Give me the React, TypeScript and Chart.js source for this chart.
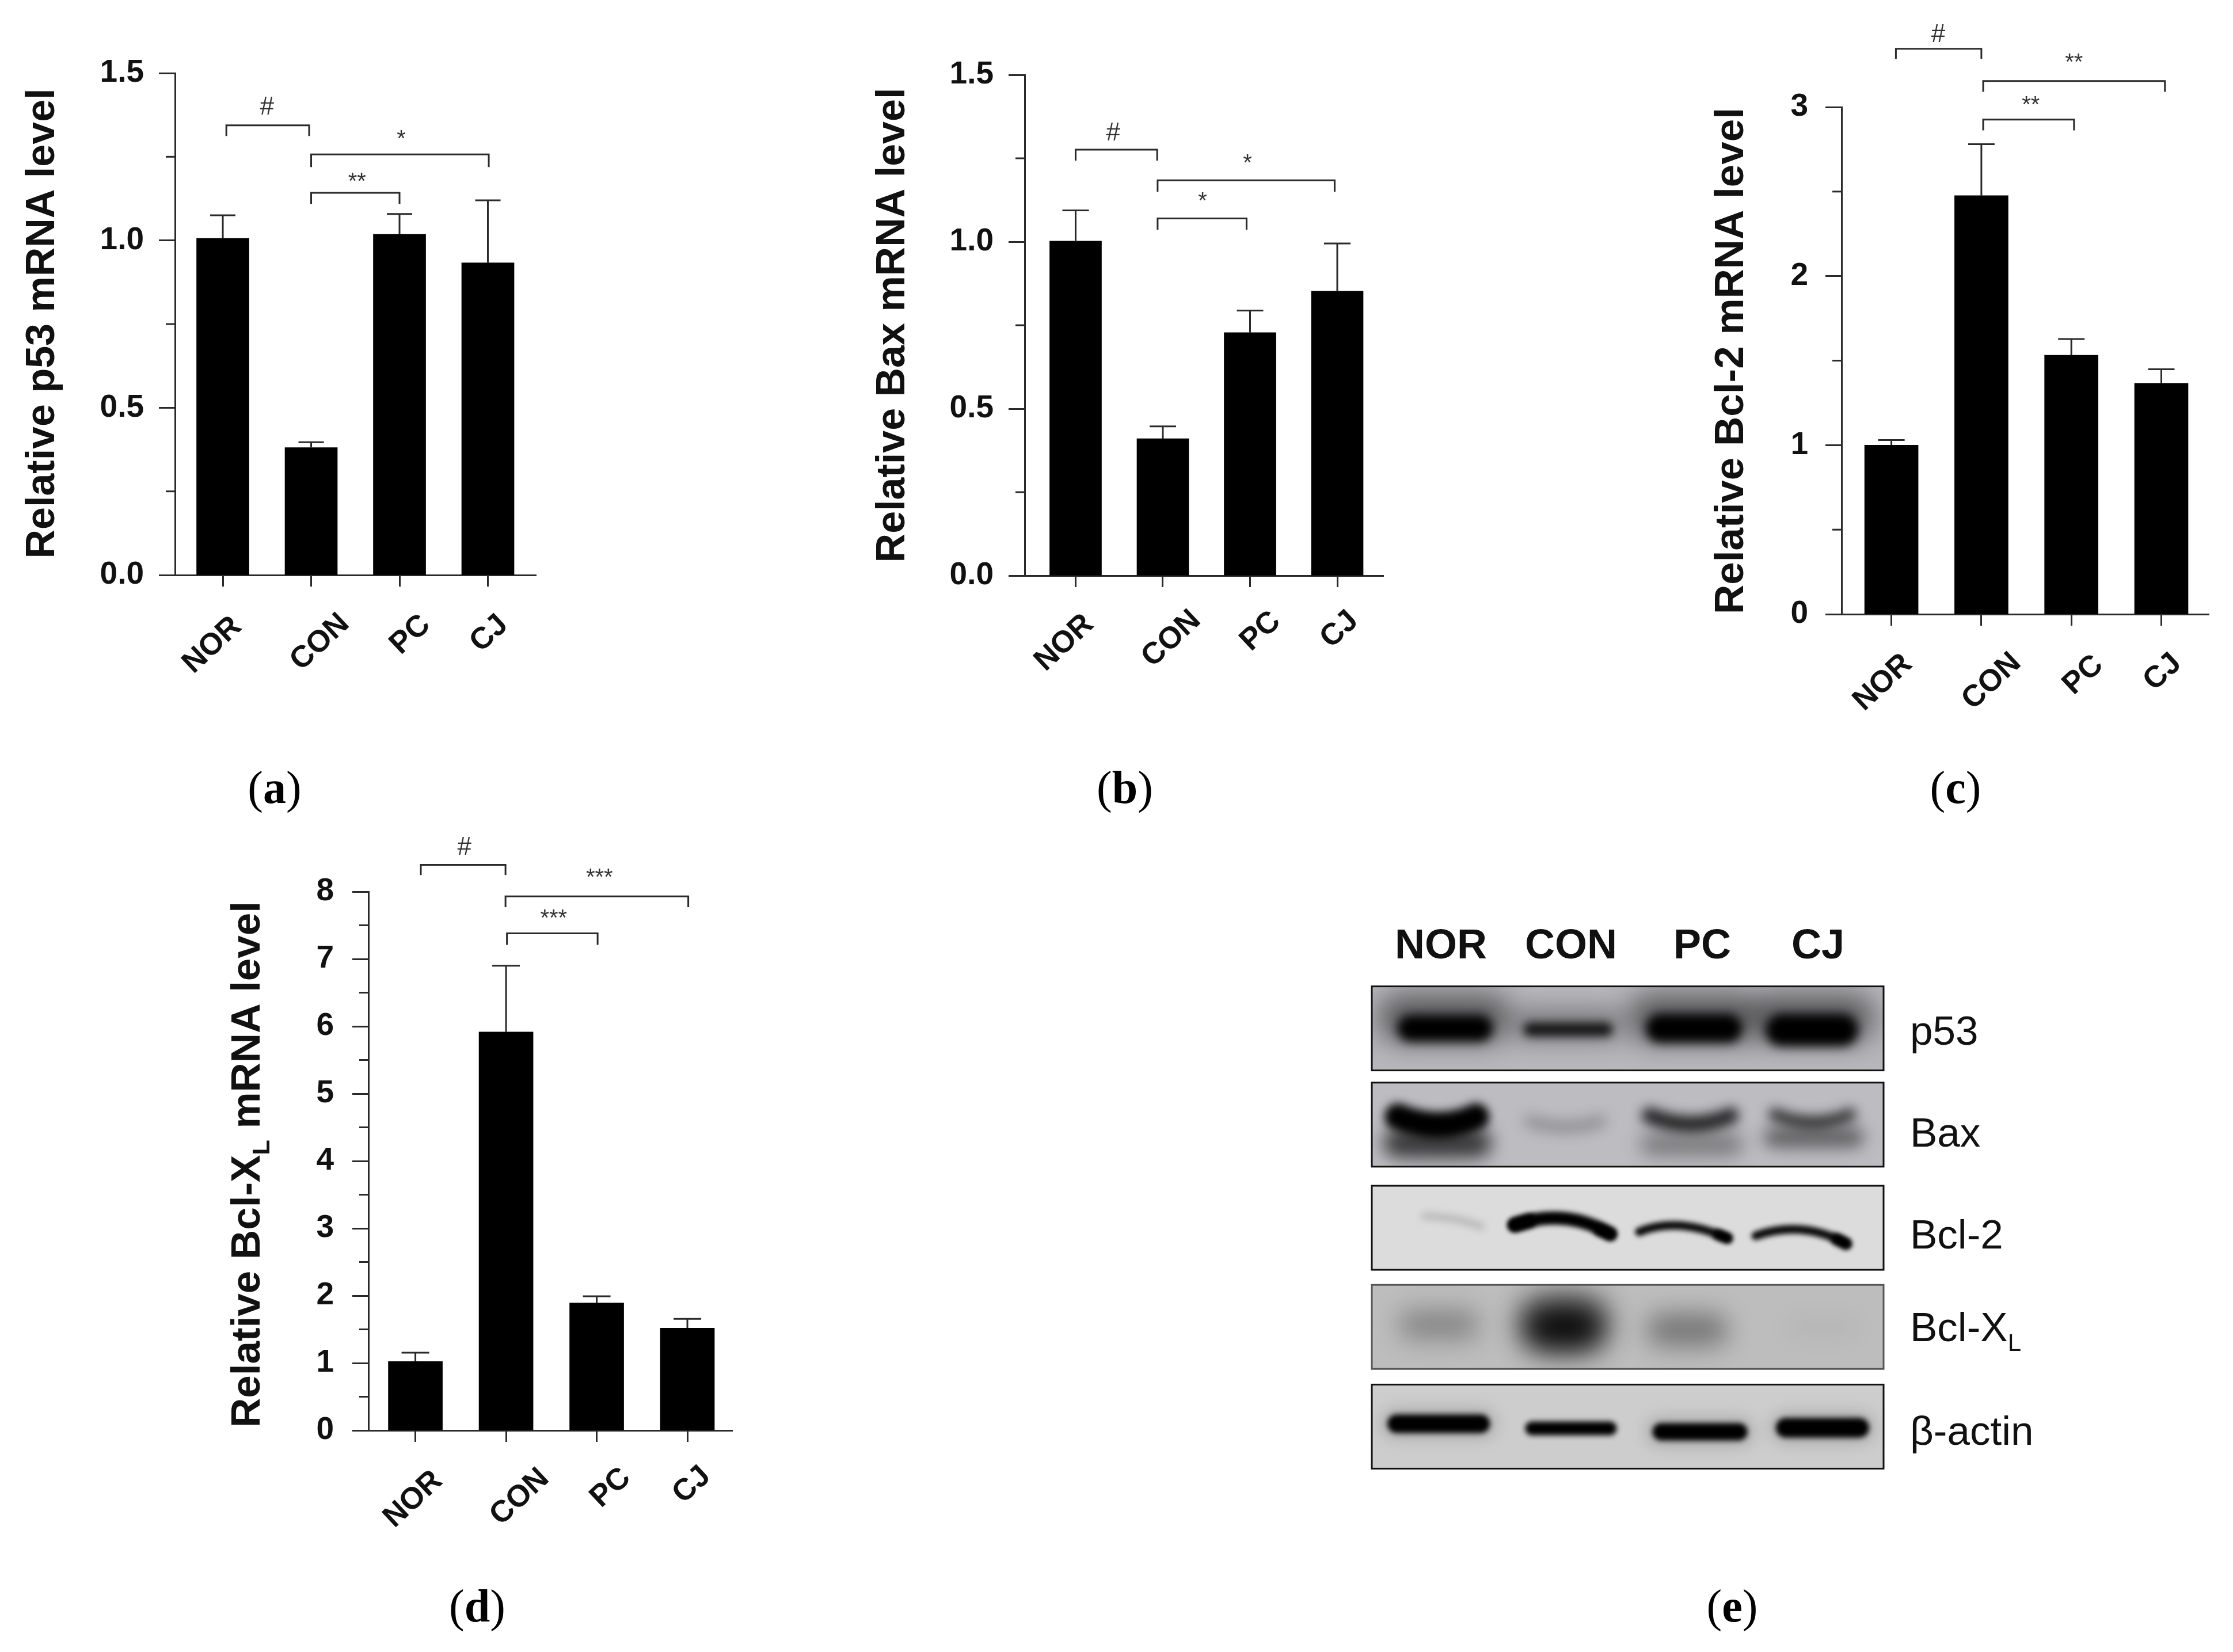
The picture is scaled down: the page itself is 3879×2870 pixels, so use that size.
import { useEffect, useRef } from 'react'
import { Chart, registerables } from 'chart.js'
Chart.register(...registerables)

const SANS = '"Liberation Sans", Arial, sans-serif'
const INK = '#111'

const groups = ['NOR', 'CON', 'PC', 'CJ']
const proteins = ['p53', 'Bax', 'Bcl-2', 'Bcl-XL', 'β-actin']

const p53Means = [1.006, 0.381, 1.018, 0.933]
const p53Errors = [0.069, 0.016, 0.061, 0.187]
const baxMeans = [1.002, 0.41, 0.728, 0.852]
const baxErrors = [0.092, 0.037, 0.066, 0.143]
const bcl2Means = [1.0, 2.476, 1.532, 1.366]
const bcl2Errors = [0.03, 0.304, 0.096, 0.083]
const bclxMeans = [1.023, 5.916, 1.893, 1.519]
const bclxErrors = [0.13, 0.984, 0.099, 0.137]

const p53Brackets = [
  { from: 0.04, to: 0.977, level: 1.344, leg: 1.312, mark: '#', markX: 0.5, markY: 1.404 },
  { from: 1, to: 3.01, level: 1.257, leg: 1.219, mark: '*', markX: 2.02, markY: 1.322 },
  { from: 1, to: 2, level: 1.142, leg: 1.109, mark: '**', markX: 1.52, markY: 1.195 },
]
const baxBrackets = [
  { from: 0, to: 0.935, level: 1.276, leg: 1.243, mark: '#', markX: 0.43, markY: 1.33 },
  { from: 0.94, to: 2.97, level: 1.184, leg: 1.15, mark: '*', markX: 1.97, markY: 1.254 },
  { from: 0.94, to: 1.96, level: 1.07, leg: 1.036, mark: '*', markX: 1.456, markY: 1.14 },
]
const bcl2Brackets = [
  { from: 0.05, to: 1, level: 3.345, leg: 3.285, mark: '#', markX: 0.52, markY: 3.44 },
  { from: 1.02, to: 3.04, level: 3.154, leg: 3.09, mark: '**', markX: 2.03, markY: 3.3 },
  { from: 1.02, to: 2.03, level: 2.926, leg: 2.862, mark: '**', markX: 1.55, markY: 3.05 },
]
const bclxBrackets = [
  { from: 0.06, to: 0.994, level: 8.397, leg: 8.245, mark: '#', markX: 0.54, markY: 8.68 },
  { from: 0.994, to: 3.01, level: 7.93, leg: 7.77, mark: '***', markX: 2.03, markY: 8.3 },
  { from: 1.01, to: 2.01, level: 7.38, leg: 7.21, mark: '***', markX: 1.525, markY: 7.69 },
]

// how dark each lane's band is on the blot, per protein
const p53Levels = [1, 0.85, 1, 1]
const baxLevels = [1, 0.28, 0.8, 0.7]
const bcl2Levels = [0.2, 1, 0.95, 0.95]
const bclxLevels = [0.3, 0.9, 0.38, 0.03]
const actinLevels = [1, 1, 1, 1]

const panels: any[] = [
  {
    means: p53Means, errors: p53Errors, brackets: p53Brackets, yMax: 1.5, minorStep: 0.25, majorStep: 0.5, decimals: 1,
    box: { left: 0, top: 60, width: 1000, height: 1200 }, plot: { left: 304, right: 931, top: 127, bottom: 999 },
    xRange: [-0.541, 3.544], barWidth: 91, capHalf: 22, tickPad: 26,
    title: [{ text: 'Relative p53 mRNA level' }], titleX: 94, titleY: 562, titleSize: 70,
    labelCenters: [[369, 1121], [556, 1116], [713, 1103], [850, 1101]],
  },
  {
    means: baxMeans, errors: baxErrors, brackets: baxBrackets, yMax: 1.5, minorStep: 0.25, majorStep: 0.5, decimals: 1,
    box: { left: 1480, top: 60, width: 1000, height: 1200 }, plot: { left: 1780, right: 2403, top: 130, bottom: 1000 },
    xRange: [-0.584, 3.528], barWidth: 90, capHalf: 23, tickPad: 26,
    title: [{ text: 'Relative Bax mRNA level' }], titleX: 1571, titleY: 565, titleSize: 70,
    labelCenters: [[1849, 1117], [2035, 1110], [2190, 1097], [2327, 1094]],
  },
  {
    means: bcl2Means, errors: bcl2Errors, brackets: bcl2Brackets, yMax: 3, minorStep: 0.5, majorStep: 1, decimals: 0,
    box: { left: 2950, top: 10, width: 929, height: 1250 }, plot: { left: 3199, right: 3837, top: 186, bottom: 1067 },
    xRange: [-0.554, 3.528], barWidth: 93, capHalf: 23, tickPad: 30,
    title: [{ text: 'Relative Bcl-2 mRNA level' }], titleX: 3028, titleY: 627, titleSize: 71,
    labelCenters: [[3271, 1186], [3460, 1184], [3619, 1173], [3757, 1168]],
  },
  {
    means: bclxMeans, errors: bclxErrors, brackets: bclxBrackets, yMax: 8, minorStep: 0.5, majorStep: 1, decimals: 0,
    box: { left: 350, top: 1430, width: 1000, height: 1290 }, plot: { left: 640, right: 1272, top: 1549, bottom: 2485 },
    xRange: [-0.518, 3.495], barWidth: 94, capHalf: 24, tickPad: 32,
    title: [{ text: 'Relative Bcl-X' }, { text: 'L', sub: true }, { text: ' mRNA level' }], titleX: 451, titleY: 2023, titleSize: 71,
    labelCenters: [[718, 2605], [903, 2601], [1061, 2585], [1202, 2580]],
  },
]

// blot picture: offsets from lane / row centre as [x0, y0, cx, cy, x1, y1, thickness, blur]
const blotRows = [
  { levels: p53Levels, fill: '#b8b8bc', edge: '#111', dy: 0, paths: [
    [-44, 0, 16, 0, 76, 0, 46, 9], [-58, 2, 8, 2, 73, 2, 24, 8], [-55, 0, 4, 0, 63, 0, 50, 9], [-66, 3, -14, 3, 39, 3, 56, 9],
  ] },
  { levels: baxLevels, fill: '#bdbdc1', edge: '#111', dy: -6, paths: [
    [-66, -14, 5, 16, 70, -14, 46, 8], [-60, -6, 2, 14, 65, -6, 18, 12], [-73, -16, 0, 14, 68, -16, 28, 10], [-78, -18, -10, 10, 53, -18, 22, 10],
  ] },
  { levels: bcl2Levels, fill: '#dcdcdc', edge: '#111', dy: 0, paths: [
    [-20, -20, 30, -20, 80, -2, 10, 7], [-85, -5, 0, -35, 81, 10, 23, 4], [-91, 7, -25, -20, 62, 18, 15, 4], [-111, 14, -32, -14, 46, 27, 15, 4],
  ] },
  { levels: bclxLevels, fill: '#bdbdbd', edge: '#555', dy: -1, paths: [
    [-40, -4, 5, -4, 50, -4, 50, 22], [-30, 0, 0, 0, 30, 0, 80, 24], [-50, 5, -8, 5, 35, 5, 56, 22], [-40, 0, 0, 0, 50, 0, 40, 18],
  ] },
  { levels: actinLevels, fill: '#cdcdcd', edge: '#111', dy: -1, paths: [
    [-68, -5, 5, -5, 78, -5, 32, 5], [-55, 3, 12, 3, 80, 3, 24, 5], [-53, 9, 14, 9, 82, 9, 30, 5], [-59, 2, 5, 2, 69, 2, 34, 5],
  ] },
]
// halos and lower bands: [row, lane, x0, y0, cx, cy, x1, y1, thickness, blur, alpha]
const blotExtras = [
  [0, 0, -60, -18, 15, -18, 90, -18, 84, 24, 0.5], [0, 1, -60, -6, 8, -6, 75, -6, 60, 20, 0.3],
  [0, 2, -70, -18, 4, -18, 78, -18, 84, 24, 0.5], [0, 3, -80, -18, -14, -18, 55, -18, 84, 24, 0.5],
  [1, 0, -66, 32, 5, 34, 72, 32, 50, 15, 0.7], [1, 2, -70, 34, 0, 36, 70, 34, 38, 16, 0.36],
  [1, 3, -80, 22, -10, 24, 60, 22, 34, 14, 0.5], [3, 1, -30, -10, 0, -10, 30, -10, 100, 25, 0.35],
  [2, 1, -85, -5, -72, -8, -60, -12, 24, 4, 1], [2, 1, 62, 4, 72, 8, 81, 12, 20, 4, 1], [2, 2, 46, 12, 54, 15, 62, 18, 18, 4, 1], [2, 3, 30, 20, 38, 24, 46, 28, 20, 4, 1],
  [4, 0, -70, -5, 5, -5, 80, -5, 44, 14, 0.22], [4, 2, -55, 9, 14, 9, 84, 9, 44, 14, 0.2], [4, 3, -60, 2, 5, 2, 70, 2, 46, 14, 0.22],
]

const blotLabels = [[2503, 1640], [2729, 1640], [2957, 1640], [3158, 1640]]
const proteinBaselines = [1815, 1992, 2169, 2330, 2510]

const captions = [
  { letter: 'a', x: 477, y: 1368 },
  { letter: 'b', x: 1954, y: 1368 },
  { letter: 'c', x: 3397, y: 1368 },
  { letter: 'd', x: 829, y: 2790 },
  { letter: 'e', x: 3009, y: 2790 },
]

function barChartConfig(p: any) {
  const isMajor = (v: number) => Math.abs(v / p.majorStep - Math.round(v / p.majorStep)) < 1e-6

  const extras = {
    id: 'panelExtras',
    afterDraw(chart: any) {
      const { ctx } = chart
      const xs = chart.scales.x
      const ys = chart.scales.y
      ctx.save()
      // error bars, upper arm only
      ctx.strokeStyle = '#2a2a2a'
      ctx.lineWidth = 3
      p.means.forEach((m: number, i: number) => {
        const px = xs.getPixelForValue(i)
        const top = ys.getPixelForValue(m + p.errors[i])
        ctx.beginPath()
        ctx.moveTo(px, ys.getPixelForValue(m))
        ctx.lineTo(px, top)
        ctx.moveTo(px - p.capHalf, top)
        ctx.lineTo(px + p.capHalf, top)
        ctx.stroke()
      })
      // minor ticks
      ys.ticks.forEach((t: any) => {
        if (isMajor(t.value)) return
        const py = ys.getPixelForValue(t.value)
        ctx.beginPath()
        ctx.moveTo(xs.left, py)
        ctx.lineTo(xs.left - 16, py)
        ctx.stroke()
      })
      // significance brackets
      ctx.strokeStyle = '#2a2a2a'
      ctx.lineWidth = 3
      ctx.fillStyle = '#333'
      ctx.textAlign = 'center'
      ctx.textBaseline = 'alphabetic'
      p.brackets.forEach((b: any) => {
        const x0 = xs.getPixelForValue(b.from)
        const x1 = xs.getPixelForValue(b.to)
        const y = ys.getPixelForValue(b.level)
        const yLeg = ys.getPixelForValue(b.leg)
        ctx.beginPath()
        ctx.moveTo(x0, yLeg)
        ctx.lineTo(x0, y)
        ctx.lineTo(x1, y)
        ctx.lineTo(x1, yLeg)
        ctx.stroke()
        const star = b.mark !== '#'
        const size = star ? 40 : 44
        ctx.font = `${size}px ${SANS}`
        ctx.fillText(b.mark, xs.getPixelForValue(b.markX), ys.getPixelForValue(b.markY) + size * (star ? 0.58 : 0.36))
      })
      // rotated group labels, they sit a bit differently under each tick
      ctx.fillStyle = INK
      ctx.font = `bold 53px ${SANS}`
      ctx.textBaseline = 'middle'
      groups.forEach((g, i) => {
        const [cx, cy] = p.labelCenters[i]
        ctx.save()
        ctx.translate(cx - p.box.left, cy - p.box.top)
        ctx.rotate((-43 * Math.PI) / 180)
        ctx.fillText(g, 0, 0)
        ctx.restore()
      })
      // y title, drawn by hand because of the subscript in Bcl-XL
      ctx.save()
      ctx.translate(p.titleX - p.box.left, p.titleY - p.box.top)
      ctx.rotate(-Math.PI / 2)
      ctx.textAlign = 'left'
      ctx.textBaseline = 'alphabetic'
      const fontFor = (part: any) => `bold ${part.sub ? Math.round(p.titleSize * 0.6) : p.titleSize}px ${SANS}`
      const total = p.title.reduce((s: number, part: any) => {
        ctx.font = fontFor(part)
        return s + ctx.measureText(part.text).width
      }, 0)
      let cursor = -total / 2
      p.title.forEach((part: any) => {
        ctx.font = fontFor(part)
        ctx.fillText(part.text, cursor, part.sub ? 17 : 0)
        cursor += ctx.measureText(part.text).width
      })
      ctx.restore()
      ctx.restore()
    },
  }

  return {
    type: 'bar',
    data: {
      datasets: [{
        data: p.means.map((y: number, i: number) => ({ x: i, y })),
        backgroundColor: '#000',
        barThickness: p.barWidth,
      }],
    },
    plugins: [extras],
    options: {
      animation: false,
      responsive: false,
      devicePixelRatio: 1,
      layout: {
        padding: {
          left: 0,
          top: p.plot.top - p.box.top,
          right: p.box.left + p.box.width - p.plot.right,
          bottom: 0,
        },
      },
      plugins: { legend: { display: false }, tooltip: { enabled: false }, title: { display: false } },
      scales: {
        x: {
          type: 'linear',
          offset: false,
          min: p.xRange[0],
          max: p.xRange[1],
          afterBuildTicks: (s: any) => { s.ticks = groups.map((_, i) => ({ value: i })) },
          afterFit: (s: any) => { s.height = p.box.top + p.box.height - p.plot.bottom },
          ticks: { display: false },
          grid: { offset: false, drawOnChartArea: false, tickLength: 20, tickColor: '#2a2a2a', tickWidth: 3 },
          border: { color: '#2a2a2a', width: 3 },
        },
        y: {
          min: 0,
          max: p.yMax,
          afterFit: (s: any) => { s.width = p.plot.left - p.box.left },
          ticks: {
            stepSize: p.minorStep,
            autoSkip: false,
            padding: p.tickPad,
            color: INK,
            font: { family: SANS, size: 55, weight: 'bold' },
            callback: (v: number) => (isMajor(v) ? v.toFixed(p.decimals) : ''),
          },
          grid: {
            drawOnChartArea: false,
            tickLength: 28,
            tickWidth: 3,
            tickColor: (c: any) => (isMajor(c.tick.value) ? '#2a2a2a' : 'transparent'),
          },
          border: { color: '#2a2a2a', width: 3 },
        },
      },
    },
  }
}

function BarPanel({ panel }: { panel: any }) {
  const ref = useRef<HTMLCanvasElement>(null)
  useEffect(() => {
    if (!ref.current) return
    const chart = new Chart(ref.current, barChartConfig(panel) as any)
    return () => chart.destroy()
  }, [panel])
  const { left, top, width, height } = panel.box
  return <canvas ref={ref} width={width} height={height} style={{ position: 'absolute', left, top, width, height }} />
}

const blotBox = { left: 2300, top: 1560, width: 1500, height: 1040 }
const blotArea = { left: 2383, right: 3272, top: 1700, bottom: 2566 }

function blotConfig() {
  const blot = {
    id: 'blot',
    afterDraw(chart: any) {
      const { ctx } = chart
      const xs = chart.scales.x
      const ys = chart.scales.y
      const stroke = (cx0: number, cy0: number, s: number[], alpha: number) => {
        const [x0, y0, cx, cy, x1, y1, thick, blur] = s
        ctx.filter = `blur(${blur}px)`
        ctx.strokeStyle = `rgba(0,0,0,${alpha})`
        ctx.lineWidth = thick
        ctx.lineCap = 'round'
        ctx.beginPath()
        ctx.moveTo(cx0 + x0, cy0 + y0)
        ctx.quadraticCurveTo(cx0 + cx, cy0 + cy, cx0 + x1, cy0 + y1)
        ctx.stroke()
        ctx.filter = 'none'
      }
      blotRows.forEach((row, r) => {
        const cy = ys.getPixelForValue(r) + row.dy
        const rect = [chart.chartArea.left, cy - 73, chart.chartArea.width, 146]
        ctx.save()
        ctx.beginPath()
        ctx.rect(rect[0], rect[1], rect[2], rect[3])
        ctx.clip()
        ctx.fillStyle = row.fill
        ctx.fillRect(rect[0], rect[1], rect[2], rect[3])
        blotExtras.filter(e => e[0] === r).forEach(e => {
          stroke(xs.getPixelForValue(e[1]), cy, e.slice(2, 10), e[10])
        })
        row.levels.forEach((level, lane) => {
          stroke(xs.getPixelForValue(lane), cy, row.paths[lane], level)
        })
        ctx.restore()
        ctx.strokeStyle = row.edge
        ctx.lineWidth = 3
        ctx.strokeRect(rect[0], rect[1], rect[2], rect[3])
      })
      ctx.textBaseline = 'alphabetic'
      ctx.fillStyle = '#111'
      ctx.textAlign = 'center'
      ctx.font = `bold 72px ${SANS}`
      groups.forEach((g, i) => {
        ctx.fillText(g, blotLabels[i][0] - blotBox.left, blotLabels[i][1] - blotBox.top + 25)
      })
      ctx.textAlign = 'left'
      proteins.forEach((name, i) => {
        const x = 3318 - blotBox.left
        const y = proteinBaselines[i] - blotBox.top
        ctx.font = `71px ${SANS}`
        const base = name === 'Bcl-XL' ? 'Bcl-X' : name
        ctx.fillText(base, x, y)
        if (name === 'Bcl-XL') {
          const w = ctx.measureText(base).width
          ctx.font = `42px ${SANS}`
          ctx.fillText('L', x + w, y + 17)
        }
      })
    },
  }
  return {
    type: 'bar',
    data: { datasets: [] },
    plugins: [blot],
    options: {
      animation: false,
      responsive: false,
      devicePixelRatio: 1,
      layout: {
        padding: {
          left: blotArea.left - blotBox.left,
          right: blotBox.left + blotBox.width - blotArea.right,
          top: blotArea.top - blotBox.top,
          bottom: blotBox.top + blotBox.height - blotArea.bottom,
        },
      },
      plugins: { legend: { display: false }, tooltip: { enabled: false } },
      scales: {
        x: { type: 'category', labels: groups, offset: true, display: false },
        y: { type: 'category', labels: proteins, offset: true, display: false },
      },
    },
  }
}

function BlotPanel() {
  const ref = useRef<HTMLCanvasElement>(null)
  useEffect(() => {
    if (!ref.current) return
    const chart = new Chart(ref.current, blotConfig() as any)
    return () => chart.destroy()
  }, [])
  const { left, top, width, height } = blotBox
  return <canvas ref={ref} width={width} height={height} style={{ position: 'absolute', left, top, width, height }} />
}

export default function App() {
  return (
    <div style={{ position: 'absolute', left: 0, top: 0, width: 3879, height: 2870, background: '#fff', overflow: 'hidden' }}>
      {panels.map((p, i) => <BarPanel key={i} panel={p} />)}
      <BlotPanel />
      {captions.map(c => (
        <div
          key={c.letter}
          style={{
            position: 'absolute', left: c.x - 100, top: c.y - 50, width: 200, height: 100, lineHeight: '100px',
            textAlign: 'center', fontFamily: '"Liberation Serif", serif', fontSize: 80, color: '#000',
          }}
        >
          (<b>{c.letter}</b>)
        </div>
      ))}
    </div>
  )
}
